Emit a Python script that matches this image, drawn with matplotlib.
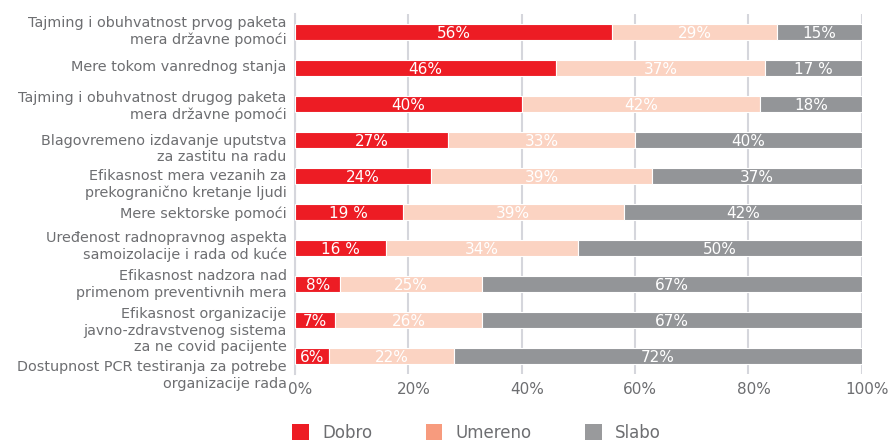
import matplotlib
matplotlib.use("Agg")
import matplotlib.pyplot as plt
import matplotlib.transforms as mtransforms
from matplotlib.patches import Patch
import numpy as np

categories = [
    "Tajming i obuhvatnost prvog paketa\nmera državne pomoći",
    "Mere tokom vanrednog stanja",
    "Tajming i obuhvatnost drugog paketa\nmera državne pomoći",
    "Blagovremeno izdavanje uputstva\nza zastitu na radu",
    "Efikasnost mera vezanih za\nprekogranično kretanje ljudi",
    "Mere sektorske pomoći",
    "Uređenost radnopravnog aspekta\nsamoizolacije i rada od kuće",
    "Efikasnost nadzora nad\nprimenom preventivnih mera",
    "Efikasnost organizacije\njavno-zdravstvenog sistema\nza ne covid pacijente",
    "Dostupnost PCR testiranja za potrebe\norganizacije rada",
]
series_names = ["Dobro", "Umereno", "Slabo"]
dobro = [56, 46, 40, 27, 24, 19, 16, 8, 7, 6]
umereno = [29, 37, 42, 33, 39, 39, 34, 25, 26, 22]
slabo = [15, 17, 18, 40, 37, 42, 50, 67, 67, 72]
dobro_labels = ["56%", "46%", "40%", "27%", "24%", "19 %", "16 %", "8%", "7%", "6%"]
umereno_labels = ["29%", "37%", "42%", "33%", "39%", "39%", "34%", "25%", "26%", "22%"]
slabo_labels = ["15%", "17 %", "18%", "40%", "37%", "42%", "50%", "67%", "67%", "72%"]
x_ticks = [0, 20, 40, 60, 80, 100]
x_tick_labels = ["0%", "20%", "40%", "60%", "80%", "100%"]

# styles
bar_colors = ["#ED1C24", "#FBD3C2", "#939598"]
legend_colors = ["#ED1C24", "#F79B7E", "#999A9C"]
text_color = "#6D6E71"
grid_color = "#D5D6DC"
label_y_offsets_px = [-3, -3, 0, 6, 6, 0, -4, -2, 8, 17]

plt.rcParams["font.family"] = ["DejaVu Sans"]

fig = plt.figure(figsize=(8.94, 4.42), dpi=100)
ax = fig.add_axes([0.330, 0.154, 0.634, 0.814])

y = np.arange(len(categories))
series = [dobro, umereno, slabo]
labels = [dobro_labels, umereno_labels, slabo_labels]
left = np.zeros(len(categories))
for vals, labs, col in zip(series, labels, bar_colors):
    vals = np.array(vals, dtype=float)
    ax.barh(y, vals, left=left, height=0.44, color=col, edgecolor="white",
            linewidth=0.8, zorder=3)
    for yi, v, l, lab in zip(y, vals, left, labs):
        ax.text(l + v / 2, yi + 0.04, lab, ha="center", va="center",
                color="white", fontsize=11, zorder=4)
    left += vals

ax.set_xlim(0, 100)
ax.set_ylim(len(categories) - 0.5, -0.5)
ax.set_xticks(x_ticks)
ax.set_xticklabels(x_tick_labels, fontsize=11, color=text_color)
ax.set_yticks(y)
ax.set_yticklabels(categories, fontsize=10.4, color=text_color, ha="right",
                   linespacing=1.2)
ax.tick_params(axis="both", length=0)
ax.tick_params(axis="y", pad=6)
ax.tick_params(axis="x", pad=6)

for lab, off in zip(ax.get_yticklabels(), label_y_offsets_px):
    lab.set_transform(lab.get_transform() +
                      mtransforms.ScaledTranslation(0, -off / 100, fig.dpi_scale_trans))
for lab in ax.get_xticklabels():
    lab.set_transform(lab.get_transform() +
                      mtransforms.ScaledTranslation(5 / 100, 0, fig.dpi_scale_trans))

ax.grid(axis="x", color=grid_color, linewidth=1.5, zorder=0)
ax.set_axisbelow(True)
for s in ["top", "right", "bottom"]:
    ax.spines[s].set_visible(False)
ax.spines["left"].set_color(grid_color)
ax.spines["left"].set_linewidth(1.5)

handles = [Patch(facecolor=c, edgecolor="none") for c in legend_colors]
fig.legend(handles, series_names, loc="center", bbox_to_anchor=(0.533, 0.02),
           ncol=3, frameon=False, fontsize=12, handlelength=1.0,
           handleheight=1.1, handletextpad=0.8, columnspacing=3.2,
           labelcolor=text_color)

fig.savefig("out.png", dpi=100)
